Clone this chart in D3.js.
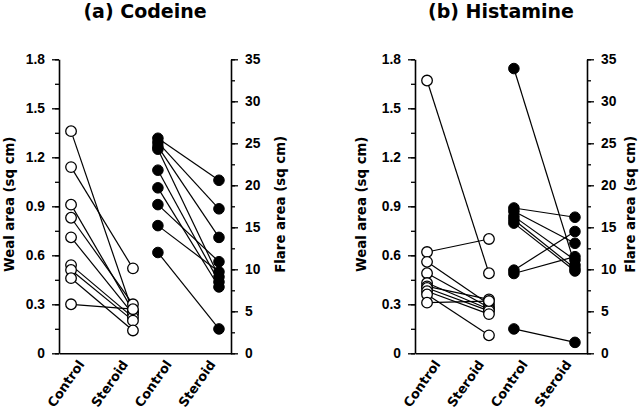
<!DOCTYPE html>
<html>
<head>
<meta charset="utf-8">
<script src="https://cdn.jsdelivr.net/npm/d3@7"></script>
<style>
  html, body { margin: 0; padding: 0; background: #fff; }
  svg { display: block; font-family: "DejaVu Sans", "Liberation Sans", Arial, sans-serif; font-weight: bold; }
</style>
</head>
<body>
<svg id="chart" width="640" height="411"></svg>
<script>
// ---------------- data ----------------
const categories = ["Control", "Steroid", "Control", "Steroid"];
const panelTitles = ["(a) Codeine", "(b) Histamine"];
const wealTicks = [0, 0.3, 0.6, 0.9, 1.2, 1.5, 1.8];
const flareTicks = [0, 5, 10, 15, 20, 25, 30, 35];
const wealLabel = "Weal area (sq cm)";
const flareLabel = "Flare area (sq cm)";

// (a) Codeine
const codeineWealControl = [1.36, 1.14, 0.91, 0.83, 0.71, 0.54, 0.51, 0.46, 0.30];
const codeineWealSteroid = [0.25, 0.52, 0.26, 0.30, 0.24, 0.22, 0.20, 0.14, 0.27];
const codeineFlareControl = [25.6, 25.1, 24.6, 24.3, 21.8, 19.7, 17.7, 15.2, 12.0];
const codeineFlareSteroid = [20.6, 17.2, 13.8, 9.1, 8.5, 7.9, 10.9, 9.7, 2.9];

// (b) Histamine
const histamineWealControl = [1.67, 0.62, 0.56, 0.49, 0.43, 0.41, 0.40, 0.38, 0.36, 0.31];
const histamineWealSteroid = [0.49, 0.70, 0.30, 0.28, 0.27, 0.33, 0.26, 0.24, 0.11, 0.32];
const histamineFlareControl = [33.9, 17.3, 16.9, 16.3, 15.9, 15.5, 9.9, 9.5, 2.9];
const histamineFlareSteroid = [10.5, 16.2, 13.1, 11.1, 10.1, 9.8, 14.5, 11.5, 1.3];

const panels = [
  { title: panelTitles[0], wc: codeineWealControl, ws: codeineWealSteroid, fc: codeineFlareControl, fs: codeineFlareSteroid },
  { title: panelTitles[1], wc: histamineWealControl, ws: histamineWealSteroid, fc: histamineFlareControl, fs: histamineFlareSteroid }
];

// ---------------- layout ----------------
const svg = d3.select("#chart");
const panelLeft = [59, 415];
const leftTitleOffset = [45, 49];
const rightTitleOffset = [54, 48];
const panelW = 172;
const plotTop = 59.3, plotBottom = 353.3;
const slot = [0.28, 1.72, 2.30, 3.72]; // slot offsets along a 0..4 category axis

const yWeal = d3.scaleLinear().domain([0, 1.8]).range([plotBottom, plotTop]);
const yFlare = d3.scaleLinear().domain([0, 35]).range([plotBottom, plotTop]);
const wealMinor = d3.range(0, 1.8001, 0.15).map(v => +v.toFixed(2));
const flareMinor = d3.range(0, 35.001, 2.5);
const fmtWeal = d => d === 0 ? "0" : d.toFixed(1);

panels.forEach((p, pi) => {
  const x0 = panelLeft[pi];
  const x = d3.scaleLinear().domain([0, 4]).range([x0, x0 + panelW]);
  const g = svg.append("g");

  // title
  g.append("text")
    .attr("x", x0 + panelW / 2).attr("y", 18)
    .attr("text-anchor", "middle")
    .style("font-size", "19px")
    .text(p.title);

  // left axis: minor ticks then major
  g.append("g").attr("transform", `translate(${x0},0)`)
    .call(d3.axisLeft(yWeal).tickValues(wealMinor).tickSize(4).tickFormat("").tickSizeOuter(0))
    .call(a => a.select(".domain").remove())
    .call(a => a.selectAll("line").attr("stroke-width", 1.3));
  g.append("g").attr("transform", `translate(${x0},0)`)
    .call(d3.axisLeft(yWeal).tickValues(wealTicks).tickSize(7).tickPadding(7).tickFormat(fmtWeal).tickSizeOuter(0))
    .call(a => a.select(".domain").attr("stroke-width", 1.6))
    .call(a => a.selectAll("line").attr("stroke-width", 1.3))
    .call(a => a.selectAll("text").style("font-size", "13.8px").style("font-family", "inherit").style("font-weight", "bold").attr("fill", "#000"));

  // right axis
  const xr = x0 + panelW;
  g.append("g").attr("transform", `translate(${xr},0)`)
    .call(d3.axisRight(yFlare).tickValues(flareMinor).tickSize(4).tickFormat("").tickSizeOuter(0))
    .call(a => a.select(".domain").remove())
    .call(a => a.selectAll("line").attr("stroke-width", 1.3));
  g.append("g").attr("transform", `translate(${xr},0)`)
    .call(d3.axisRight(yFlare).tickValues(flareTicks).tickSize(7).tickPadding(7).tickFormat(d3.format("d")).tickSizeOuter(0))
    .call(a => a.select(".domain").attr("stroke-width", 1.6))
    .call(a => a.selectAll("line").attr("stroke-width", 1.3))
    .call(a => a.selectAll("text").style("font-size", "13.8px").style("font-family", "inherit").style("font-weight", "bold").attr("fill", "#000"));

  // bottom axis line
  g.append("g").attr("transform", `translate(0,${plotBottom})`)
    .call(d3.axisBottom(x).tickValues([]).tickSizeOuter(0))
    .call(a => a.select(".domain").attr("stroke-width", 1.6));

  // category labels
  const xl = d3.scalePoint().domain(d3.range(categories.length)).range([x0 + 26, x0 + 157]);
  g.selectAll(".cat").data(categories).join("text")
    .attr("class", "cat")
    .attr("transform", (d, i) => `translate(${xl(i)},${plotBottom + 11}) rotate(-55)`)
    .attr("text-anchor", "end")
    .style("font-size", "13px")
    .text(d => d);

  // axis titles
  g.append("text")
    .attr("transform", `translate(${x0 - leftTitleOffset[pi]},${(plotTop + plotBottom) / 2 - 2}) rotate(-90)`)
    .attr("text-anchor", "middle")
    .style("font-size", "13.3px")
    .text(wealLabel);
  g.append("text")
    .attr("transform", `translate(${xr + rightTitleOffset[pi]},${(plotTop + plotBottom) / 2 - 2}) rotate(-90)`)
    .attr("text-anchor", "middle")
    .style("font-size", "13.3px")
    .text(flareLabel);

  // paired data
  const wealPairs = p.wc.map((v, i) => ({ a: v, b: p.ws[i] }));
  const flarePairs = p.fc.map((v, i) => ({ a: v, b: p.fs[i] }));
  const r = 5.3;

  g.selectAll(".wl").data(wealPairs).join("line")
    .attr("class", "wl")
    .attr("x1", x(slot[0])).attr("x2", x(slot[1]))
    .attr("y1", d => yWeal(d.a)).attr("y2", d => yWeal(d.b))
    .attr("stroke", "#000").attr("stroke-width", 1.2);
  g.selectAll(".fl").data(flarePairs).join("line")
    .attr("class", "fl")
    .attr("x1", x(slot[2])).attr("x2", x(slot[3]))
    .attr("y1", d => yFlare(d.a)).attr("y2", d => yFlare(d.b))
    .attr("stroke", "#000").attr("stroke-width", 1.2);

  const wealPts = p.wc.map(v => ({ s: 0, v })).concat(p.ws.map(v => ({ s: 1, v })));
  g.selectAll(".wp").data(wealPts).join("circle")
    .attr("class", "wp")
    .attr("cx", d => x(slot[d.s])).attr("cy", d => yWeal(d.v)).attr("r", r)
    .attr("fill", "#fff").attr("stroke", "#000").attr("stroke-width", 1.3);
  const flarePts = p.fc.map(v => ({ s: 2, v })).concat(p.fs.map(v => ({ s: 3, v })));
  g.selectAll(".fp").data(flarePts).join("circle")
    .attr("class", "fp")
    .attr("cx", d => x(slot[d.s])).attr("cy", d => yFlare(d.v)).attr("r", r)
    .attr("fill", "#000").attr("stroke", "#000").attr("stroke-width", 1);
});
</script>
</body>
</html>
